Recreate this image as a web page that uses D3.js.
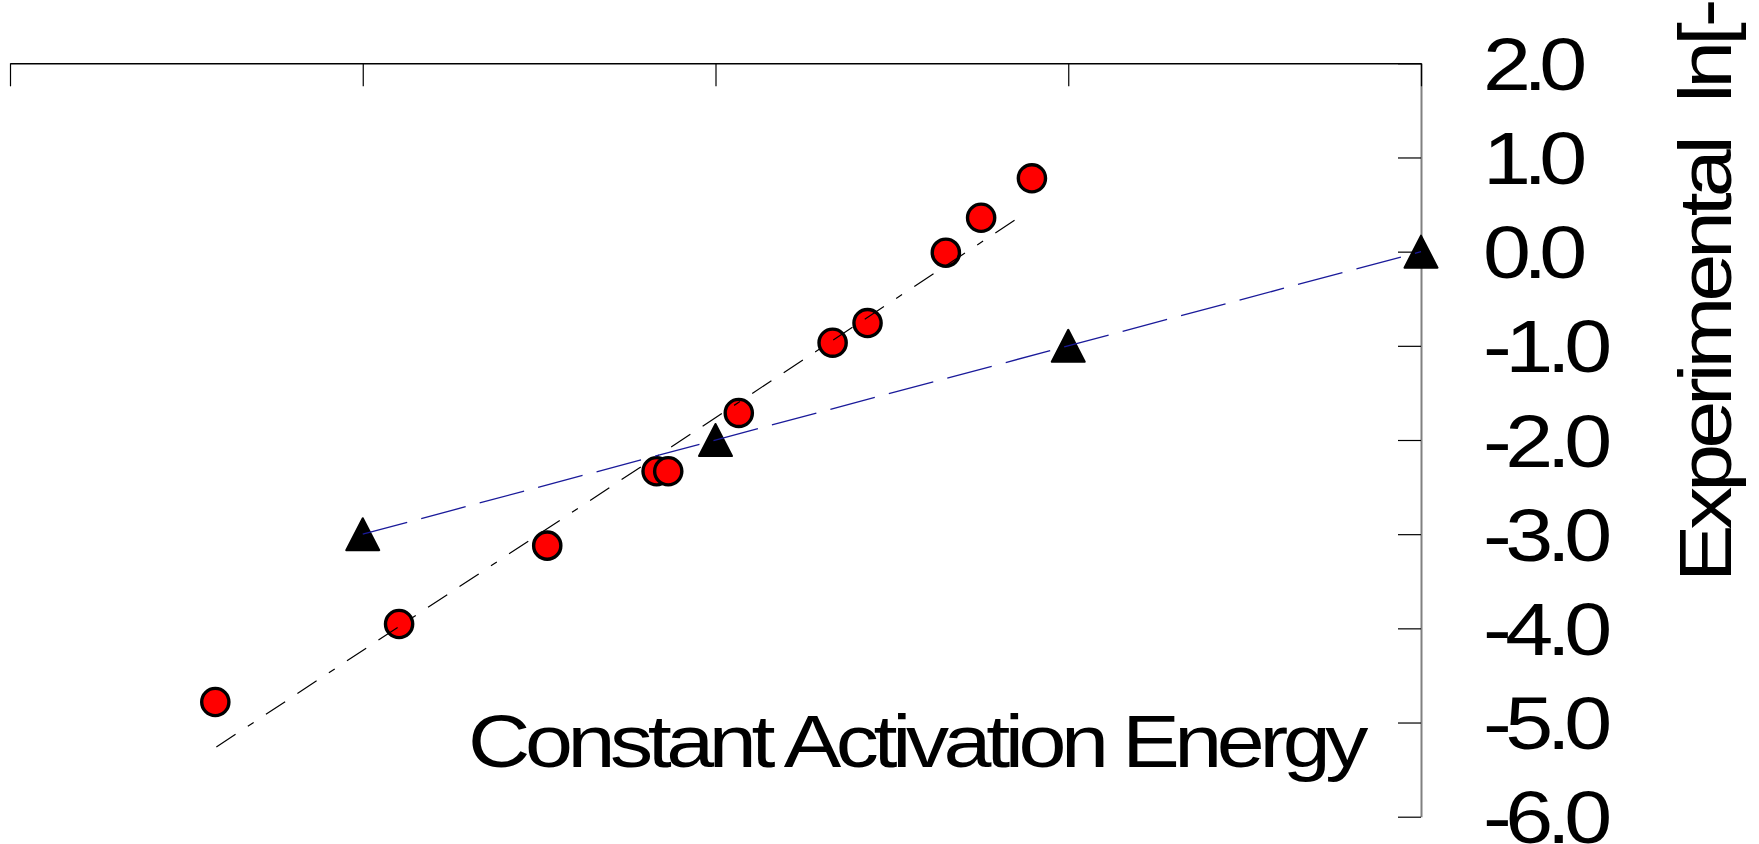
<!DOCTYPE html>
<html lang="en">
<head>
<meta charset="UTF-8">
<script src="https://d3js.org/d3.v7.min.js"></script>
<title>Constant Activation Energy</title>
<style>
  body { margin: 0; background: #fff; overflow: hidden; }
  text { font-family: "Liberation Sans", Arial, sans-serif; fill: #000; }
</style>
</head>
<body>
<svg id="chart" width="1759" height="844"></svg>
<script>
// data
const xTicks = [0, 1, 2, 3, 4];
const yTicks = [-6, -5, -4, -3, -2, -1, 0, 1, 2];
const yTickLabels = ["-6.0", "-5.0", "-4.0", "-3.0", "-2.0", "-1.0", "0.0", "1.0", "2.0"];

// red circles (experimental points)
const circleX = [0.582, 1.103, 1.523, 1.833, 1.866, 2.066, 2.332, 2.431, 2.653, 2.753, 2.897];
const circleY = [-4.782, -3.954, -3.122, -2.332, -2.332, -1.713, -0.967, -0.758, -0.011, 0.360, 0.779];

// black triangles
const triX = [1, 2, 3, 4];
const triY = [-3, -2, -1, 0];

// fitted lines
const fitX = [0.585, 2.875];
const fitY = [-5.26, 0.40];
const trendX = [1, 4];
const trendY = [-3, 0];

const titleText = "Constant Activation Energy";
const yLabelText = "Experimental  ln[-";

const svg = d3.select("#chart");
svg.append("rect").attr("width", 1759).attr("height", 844).attr("fill", "#fff");

const x = d3.scaleLinear().domain([0, 4]).range([10, 1421]);
const y = d3.scaleLinear().domain([-6, 2]).range([816.7, 63.3]);

// wide glyphs, same overall length
const STRETCH = 1.15;
function wideText(parent, str, tx, ty, size, rot) {
    let g = parent.append("g")
        .attr("transform", "translate(" + tx + "," + ty + ")" + (rot ? " rotate(" + rot + ")" : "") + " scale(" + STRETCH + ",1)");
    let t = g.append("text")
        .attr("x", 0).attr("y", 0)
        .attr("font-size", size)
        .style("white-space", "pre")
        .text(str);
    let len = t.node().getComputedTextLength();
    t.attr("textLength", len / STRETCH).attr("lengthAdjust", "spacing");
    return t;
}

// right axis
let yAxis = svg.append("g")
    .attr("transform", "translate(" + x(4) + ",0)")
    .call(d3.axisLeft(y).tickValues(yTicks).tickSize(23).tickSizeOuter(0).tickFormat(""));
yAxis.select(".domain").attr("stroke", "#808080").attr("stroke-width", 2);
yAxis.selectAll(".tick line").attr("stroke", "#000").attr("stroke-width", 1.2);

// top axis
let xAxis = svg.append("g")
    .attr("transform", "translate(0," + y(2) + ")")
    .call(d3.axisBottom(x).tickValues(xTicks).tickSize(23).tickSizeOuter(0).tickFormat(""));
xAxis.select(".domain").attr("stroke", "#000").attr("stroke-width", 1.6);
xAxis.selectAll(".tick line").attr("stroke", "#000").attr("stroke-width", 1.2);

// tick labels
yTicks.forEach(function(v, i) {
    wideText(svg, yTickLabels[i], 1483, y(v) + 26.5, 75);
});

// circles
svg.append("g").selectAll("circle")
    .data(circleX.map((d, i) => [d, circleY[i]]))
    .join("circle")
    .attr("cx", d => x(d[0]))
    .attr("cy", d => y(d[1]))
    .attr("r", 13.6)
    .attr("fill", "#ff0000")
    .attr("stroke", "#000")
    .attr("stroke-width", 3.4);

// triangles
let tri = d3.path();
tri.moveTo(0, -16); tri.lineTo(16.5, 16); tri.lineTo(-16.5, 16); tri.closePath();
svg.append("g").selectAll("path")
    .data(triX.map((d, i) => [d, triY[i]]))
    .join("path")
    .attr("d", tri.toString())
    .attr("transform", d => "translate(" + x(d[0]) + "," + y(d[1]) + ")")
    .attr("fill", "#000")
    .attr("stroke", "#000")
    .attr("stroke-width", 2)
    .attr("stroke-linejoin", "round");

// lines
let line = d3.line().x(d => x(d[0])).y(d => y(d[1]));
svg.append("path")
    .attr("d", line(fitX.map((d, i) => [d, fitY[i]])))
    .attr("fill", "none")
    .attr("stroke", "#000")
    .attr("stroke-width", 1.2)
    .attr("stroke-dasharray", "23 14.7 7 14.7 23 14.7");

svg.append("path")
    .attr("d", line(trendX.map((d, i) => [d, trendY[i]])))
    .attr("fill", "none")
    .attr("stroke", "#1a1a9a")
    .attr("stroke-width", 1.3)
    .attr("stroke-dasharray", "46 14.5");

// title inside plot
wideText(svg, titleText, 468, 767, 75);

// axis label, rotated, runs to the top edge
wideText(svg, yLabelText, 1731, 582, 75, -90);
</script>
</body>
</html>
